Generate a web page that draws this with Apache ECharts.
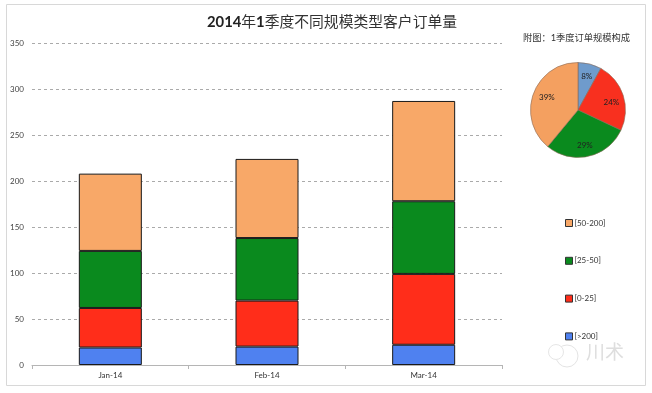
<!DOCTYPE html>
<html><head><meta charset="utf-8">
<style>html,body{margin:0;padding:0;background:#fff}#c{width:652px;height:393px}</style>
<script src="https://cdn.jsdelivr.net/npm/echarts@6/dist/echarts.min.js"></script>
</head><body><div id="c"></div>
<script>
const categories = ['Jan-14','Feb-14','Mar-14'];
const over200 = [19,20,22];
const s0to25 = [43,50,77];
const s25to50 = [62,68,79];
const s50to200 = [84,86,109];
const pieNames = ['[>200]','[0-25]','[25-50]','[50-200]'];
const pieValues = [8,24,29,39];
const barColors = ['#4f81f0','#ff2d1a','#0a8a1e','#f8a868'];
const pieColors = ['#6f9bcc','#f8301f','#0a8a1e','#f4a060'];
const labelShift = [[2,-8],[8,1],[1,9],[-6,-4]];
const font = 'Lato, "Noto Sans CJK SC", sans-serif';
const chart = echarts.init(document.getElementById('c'),null,{renderer:'canvas'});
const barSeries = (name,data,i)=>({name,type:'bar',stack:'t',data,barWidth:63,
  itemStyle:{color:barColors[i],borderColor:'#1a1a1a',borderWidth:1}});
chart.setOption({
  animation:false,
  backgroundColor:'#fff',
  textStyle:{fontFamily:font},
  title:[
    {text:'{b|2014}{n|年}{b|1}{n|季度不同规模类型客户订单量}',left:327,top:10,textAlign:'center',
     textStyle:{fontWeight:'normal',rich:{b:{fontFamily:font,fontSize:14.8,fontWeight:'bold',color:'#222'},n:{fontFamily:font,fontSize:14.8,fontWeight:'normal',color:'#333'}}}},
    {text:'附图：1季度订单规模构成',left:571.5,top:28,textAlign:'center',
     textStyle:{fontFamily:font,fontSize:9.25,fontWeight:'normal',color:'#333'}}
  ],
  grid:{left:32,right:150,top:43,bottom:28},
  xAxis:{type:'category',data:categories,
    axisLine:{lineStyle:{color:'#b5b5b5',width:1}},
    axisTick:{show:true,length:4,lineStyle:{color:'#b5b5b5'}},
    axisLabel:{fontSize:8,color:'#333',margin:6}},
  yAxis:{type:'value',min:0,max:350,interval:50,
    axisLine:{show:false},axisTick:{show:false},
    axisLabel:{fontSize:8,color:'#444',margin:8},
    splitLine:{lineStyle:{color:'#aaa',type:[3,3],width:1}}},
  legend:{orient:'vertical',left:560,top:214,itemWidth:7,itemHeight:7,itemGap:29.8,
    icon:'rect',
    data:['[50-200]','[25-50]','[0-25]','[>200]'],
    selectedMode:false,
    textStyle:{fontSize:8,color:'#333',padding:[0,0,0,-3]},
    itemStyle:{borderColor:'#333',borderWidth:1}},
  series:[
    barSeries('[>200]',over200,0),
    barSeries('[0-25]',s0to25,1),
    barSeries('[25-50]',s25to50,2),
    barSeries('[50-200]',s50to200,3),
    {type:'pie',center:[578,110],radius:[0,47.5],startAngle:90,clockwise:true,
     legendHoverLink:false,
     data:pieNames.map((n,i)=>({name:'p'+n,value:pieValues[i],itemStyle:{color:pieColors[i]}})),
     itemStyle:{borderColor:'#8a6a55',borderWidth:0.6},
     label:{show:true,position:'inside',formatter:p=>p.value+'%',fontSize:8,color:'#222'},
     labelLayout:p=>({dx:labelShift[p.dataIndex][0],dy:labelShift[p.dataIndex][1]}),
     labelLine:{show:false}}
  ],
  graphic:[
    {type:'rect',shape:{x:6.5,y:4.5,width:639,height:381},silent:true,z:-1,
     style:{fill:'none',stroke:'#d8d8d8',lineWidth:1}},
    {type:'text',left:586,top:343,silent:true,
     style:{text:'川术',fill:'#dedede',fontSize:19,fontFamily:font}},
    {type:'circle',shape:{cx:567,cy:356,r:11},silent:true,
     style:{fill:'none',stroke:'#e4e4e4',lineWidth:1}},
    {type:'circle',shape:{cx:556,cy:352,r:7.5},silent:true,
     style:{fill:'#fff',stroke:'#e6e6e6',lineWidth:1}}
  ]
});
</script></body></html>
